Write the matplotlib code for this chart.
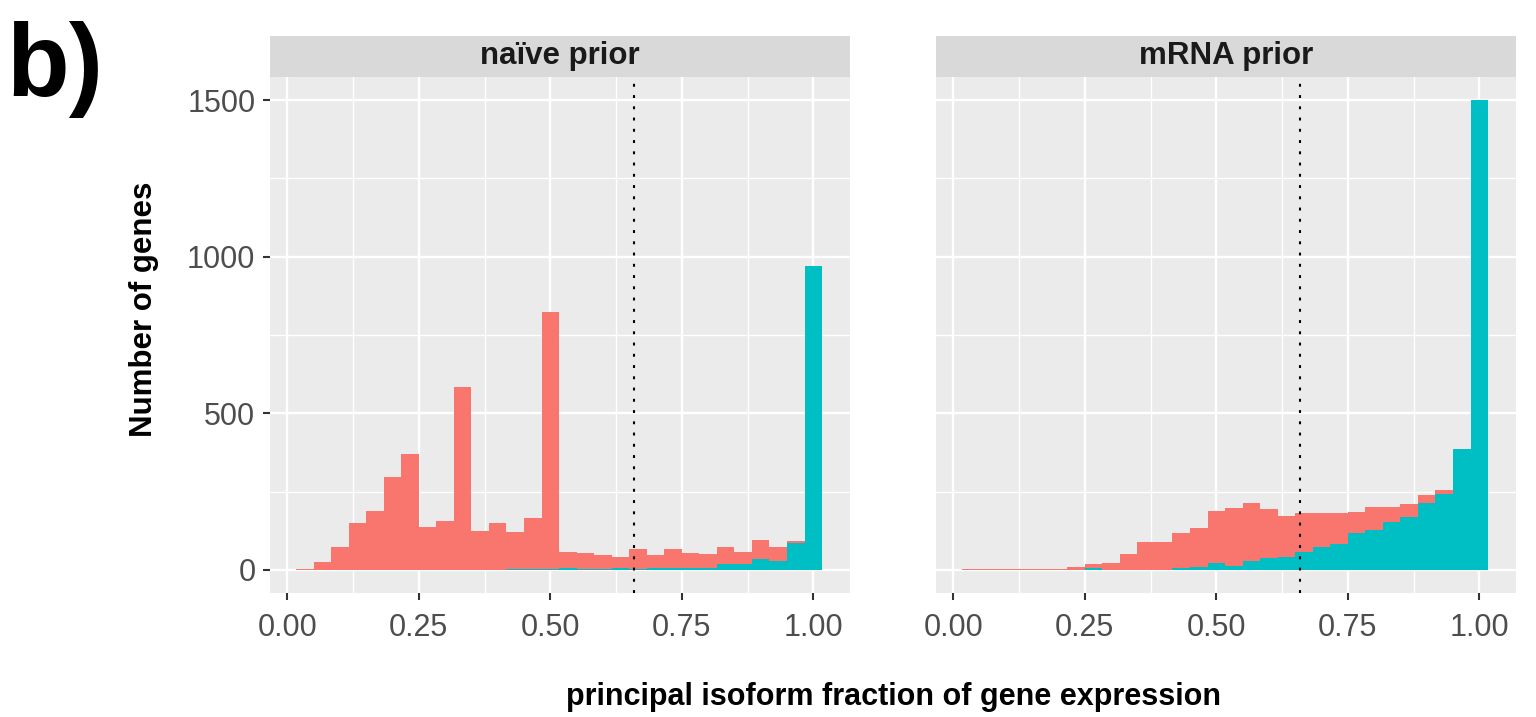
import numpy as np
import matplotlib
matplotlib.use("Agg")
import matplotlib.pyplot as plt

plt.rcParams['font.family'] = ['Liberation Sans', 'DejaVu Sans']

# ---- data (31 bins of width 1/30, centred on k/30) ----
bin_width = 1 / 30
panels = ["naïve prior", "mRNA prior"]

# counts of genes whose principal isoform is NOT dominant (red) / dominant (teal)
naive_red = [0, 3, 26, 74, 148, 189, 298, 369, 138, 157, 584, 125, 148, 119, 161,
             819, 52, 53, 46, 36, 64, 42, 61, 49, 45, 57, 38, 61, 45, 8, 0]
naive_teal = [0, 0, 0, 0, 0, 0, 0, 0, 0, 0, 0, 0, 0, 3, 3,
              3, 6, 2, 2, 6, 3, 6, 6, 6, 6, 17, 20, 35, 29, 85, 969]
mrna_red = [0, 1, 1, 1, 1, 1, 3, 10, 12, 22, 51, 90, 90, 113, 125,
            167, 186, 183, 154, 131, 122, 106, 97, 70, 74, 48, 39, 23, 13, 0, 0]
mrna_teal = [0, 1, 1, 1, 1, 1, 0, 0, 7, 0, 0, 0, 0, 6, 10,
             22, 13, 29, 39, 42, 58, 74, 83, 116, 128, 154, 170, 215, 241, 385, 1499]

threshold = 0.659
x_ticks = [0.0, 0.25, 0.5, 0.75, 1.0]
x_ticklabels = ["0.00", "0.25", "0.50", "0.75", "1.00"]
y_ticks = [0, 500, 1000, 1500]
x_minor = [0.125, 0.375, 0.625, 0.875]
y_minor = [250, 750, 1250]

RED = "#F8766D"
TEAL = "#00BFC4"

W, H = 1536, 717
fig = plt.figure(figsize=(W / 100, H / 100), dpi=100)

def fx(px):
    return px / W

def fy(py):
    return 1 - py / H

panel_top, panel_bot = 76.7, 593.3
strip_top = 36.0
panel_lefts = [270, 936]
panel_w = 580

data = [(naive_red, naive_teal), (mrna_red, mrna_teal)]

for i, (name, (red, teal)) in enumerate(zip(panels, data)):
    x0 = panel_lefts[i]
    ax = fig.add_axes([fx(x0), fy(panel_bot), panel_w / W, (panel_bot - panel_top) / H])
    ax.set_facecolor("#EBEBEB")
    centers = np.arange(len(red)) * bin_width
    red = np.array(red, dtype=float)
    teal = np.array(teal, dtype=float)
    ax.bar(centers, teal, width=bin_width, color=TEAL, linewidth=0, zorder=2)
    ax.bar(centers, red, bottom=teal, width=bin_width, color=RED, linewidth=0, zorder=2)
    ax.axvline(threshold, color="black", lw=1.5, linestyle=(0, (1.4, 4.0)), zorder=3)

    ax.set_xlim(-0.033, 1.0698)
    ax.set_ylim(-75, 1575)
    ax.set_xticks(x_ticks)
    ax.set_xticklabels(x_ticklabels)
    ax.set_xticks(x_minor, minor=True)
    ax.set_yticks(y_ticks)
    ax.set_yticks(y_minor, minor=True)
    ax.grid(which="major", color="white", lw=1.7)
    ax.grid(which="minor", color="white", lw=0.95)
    ax.set_axisbelow(True)
    for s in ax.spines.values():
        s.set_visible(False)
    ax.tick_params(which="minor", length=0)
    ax.tick_params(axis="x", which="major", length=5, width=1.5, color="#333333",
                   labelsize=22, labelcolor="#4D4D4D", pad=9.5)
    ax.tick_params(axis="y", which="major", length=5, width=1.5, color="#333333",
                   labelsize=22, labelcolor="#4D4D4D", pad=5.5)
    if i == 1:
        ax.tick_params(axis="y", which="major", length=0, labelleft=False)

    sax = fig.add_axes([fx(x0), fy(panel_top), panel_w / W, (panel_top - strip_top) / H])
    sax.set_facecolor("#D9D9D9")
    sax.set_xticks([])
    sax.set_yticks([])
    for s in sax.spines.values():
        s.set_visible(False)
    sax.text(0.5, 0.5, name, ha="center", va="center", fontsize=22.5,
             fontweight="bold", color="#1A1A1A", transform=sax.transAxes)

fig.text(fx(144), fy(309), "Number of genes", rotation=90, ha="center", va="center",
         fontsize=22.5, fontweight="bold", color="black")
fig.text(fx(893), fy(697), "principal isoform fraction of gene expression",
         ha="center", va="center", fontsize=22, fontweight="bold", color="black")
fig.text(fx(6), fy(96), "b)", ha="left", va="baseline", fontsize=74,
         fontweight="bold", color="black")

fig.savefig("out.png", dpi=100, facecolor="white")
